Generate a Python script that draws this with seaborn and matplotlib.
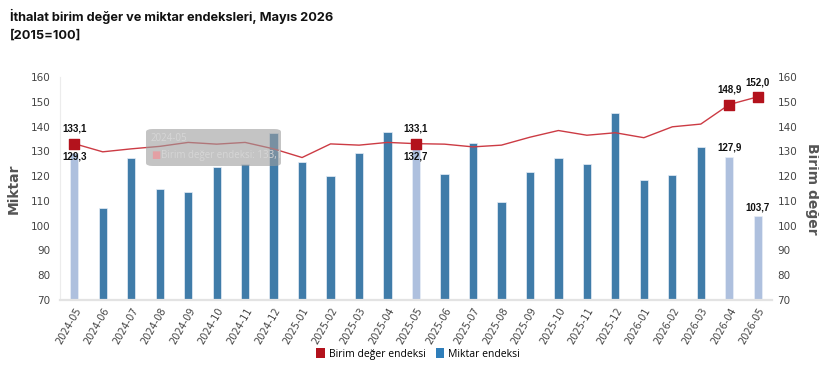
import matplotlib
matplotlib.use("Agg")
import matplotlib.pyplot as plt
import seaborn as sns
import pandas as pd
from matplotlib.patches import Patch, FancyBboxPatch

months = ["2024-05", "2024-06", "2024-07", "2024-08", "2024-09", "2024-10", "2024-11",
          "2024-12", "2025-01", "2025-02", "2025-03", "2025-04", "2025-05", "2025-06",
          "2025-07", "2025-08", "2025-09", "2025-10", "2025-11", "2025-12", "2026-01",
          "2026-02", "2026-03", "2026-04", "2026-05"]
miktar = [129.3, 107.3, 127.3, 114.6, 113.5, 123.6, 124.7, 137.6, 125.8, 120.1, 129.3,
          137.9, 132.7, 120.9, 133.5, 109.6, 121.5, 127.5, 125.0, 145.4, 118.5, 120.5,
          131.7, 127.9, 103.7]
birim = [133.1, 129.8, 131.0, 132.0, 133.6, 132.9, 133.6, 131.0, 127.5, 133.0, 132.5,
         133.6, 133.1, 132.9, 131.8, 132.5, 135.7, 138.4, 136.5, 137.5, 135.5, 139.9,
         141.0, 148.9, 152.0]
highlight = ["2024-05", "2025-05", "2026-04", "2026-05"]

DARK = "#2f7eba"
LIGHT = "#a6bee6"
RED = "#b3121c"
LINE = "#cc3b44"
GREY = "#444444"

df = pd.DataFrame({"ay": months, "miktar": miktar, "birim": birim})
df["pos"] = range(len(df))
palette = {m: (LIGHT if m in highlight else DARK) for m in months}

fig = plt.figure(figsize=(8.2, 3.71), dpi=100)
ax = fig.add_axes([60 / 820, 1 - 300 / 371, 712 / 820, 223 / 371])
sns.barplot(data=df, x="ay", y="miktar", hue="ay", palette=palette, legend=False,
            width=0.29, edgecolor="#e8eef8", linewidth=0.5, ax=ax)
ax.set_ylim(70, 160)
ax.set_xlim(-0.5, 24.5)
ax.set_yticks(range(70, 161, 10))
ax.set_xlabel("")
ax.set_ylabel("Miktar", fontsize=10, fontweight="bold", color="#555555")
ax.yaxis.set_label_coords(-39 / 712, 0.5)
ax.tick_params(axis="y", length=0, labelsize=7.5, labelcolor=GREY, pad=7)
ax.tick_params(axis="x", length=0, labelsize=7, labelcolor=GREY, pad=4)
for lab in ax.get_xticklabels():
    lab.set_rotation(60)
    lab.set_ha("right")
    lab.set_rotation_mode("anchor")
for s in ["top", "right"]:
    ax.spines[s].set_visible(False)
ax.spines["left"].set_color("#ececec")
ax.spines["left"].set_linewidth(0.8)
ax.spines["bottom"].set_color("#e3e3e3")
ax.spines["bottom"].set_linewidth(1.6)

ax2 = ax.twinx()
sns.lineplot(data=df, x="pos", y="birim", color=LINE, linewidth=1.0, ax=ax2)
hl = df[df["ay"].isin(highlight)]
ax2.scatter(hl["pos"], hl["birim"], marker="s", s=52, color=RED, zorder=5)
ax2.set_ylim(70, 160)
ax2.set_yticks(range(70, 161, 10))
ax2.set_xlim(-0.5, 24.5)
ax2.set_xlabel("")
ax2.set_ylabel("Birim değer", fontsize=10, fontweight="bold", color="#555555",
               rotation=270, va="center")
ax2.yaxis.set_label_coords(1 + 40 / 712, 0.5)
ax2.tick_params(axis="y", length=0, labelsize=7.5, labelcolor=GREY, pad=4)
for s in ["top", "right", "left", "bottom"]:
    ax2.spines[s].set_visible(False)

def fmt(v):
    return f"{v:.1f}".replace(".", ",")

lbl = dict(fontsize=7, fontweight="bold", color="#111111", ha="center",
           family="Liberation Sans")
for _, r in hl.iterrows():
    ax2.annotate(fmt(r["birim"]), (r["pos"], r["birim"]), xytext=(0, 7),
                 textcoords="offset points", va="bottom", **lbl)
    if abs(r["birim"] - r["miktar"]) < 6:
        # bar top hidden under the line marker: label goes below the marker
        ax.annotate(fmt(r["miktar"]), (r["pos"], r["birim"]), xytext=(0, -6),
                    textcoords="offset points", va="top", **lbl)
    else:
        ax.annotate(fmt(r["miktar"]), (r["pos"], r["miktar"]), xytext=(0, 3),
                    textcoords="offset points", va="bottom", **lbl)

# hover tooltip left in the screenshot
tip = FancyBboxPatch((146 / 820, 1 - 166 / 371), 135 / 820, 37 / 371,
                     boxstyle="round,pad=0,rounding_size=0.008",
                     transform=fig.transFigure, facecolor="#9e9e9e", alpha=0.6,
                     edgecolor="none", zorder=20)
fig.patches.append(tip)
fig.text(151 / 820, 1 - 138 / 371, "2024-05", fontsize=7, color="#d6d6d6",
         va="center", family="Open Sans", zorder=21)
fig.text(151 / 820, 1 - 155 / 371, "■", fontsize=7, color="#e3a0a4",
         va="center", zorder=21)
fig.text(161 / 820, 1 - 155 / 371, "Birim değer endeksi: 133,1", fontsize=7,
         color="#d6d6d6", va="center", family="Open Sans", zorder=21)

fig.text(10 / 820, 1 - 16 / 371, "İthalat birim değer ve miktar endeksleri, Mayıs 2026",
         fontsize=9.2, fontweight="bold", color="#111111", va="center", family="Inter")
fig.text(10 / 820, 1 - 36 / 371, "[2015=100]", fontsize=9.2, fontweight="bold",
         color="#111111", va="center", family="Inter")

handles = [Patch(facecolor=RED, label="Birim değer endeksi"),
           Patch(facecolor=DARK, label="Miktar endeksi")]
fig.legend(handles=handles, loc="center", bbox_to_anchor=(0.51, 1 - 354 / 371), ncol=2,
           frameon=False, handlelength=0.8, handleheight=1.0,
           handletextpad=0.4, columnspacing=1.0, prop={"family": "Open Sans", "size": 7.5})

fig.savefig("out.png", dpi=100)
